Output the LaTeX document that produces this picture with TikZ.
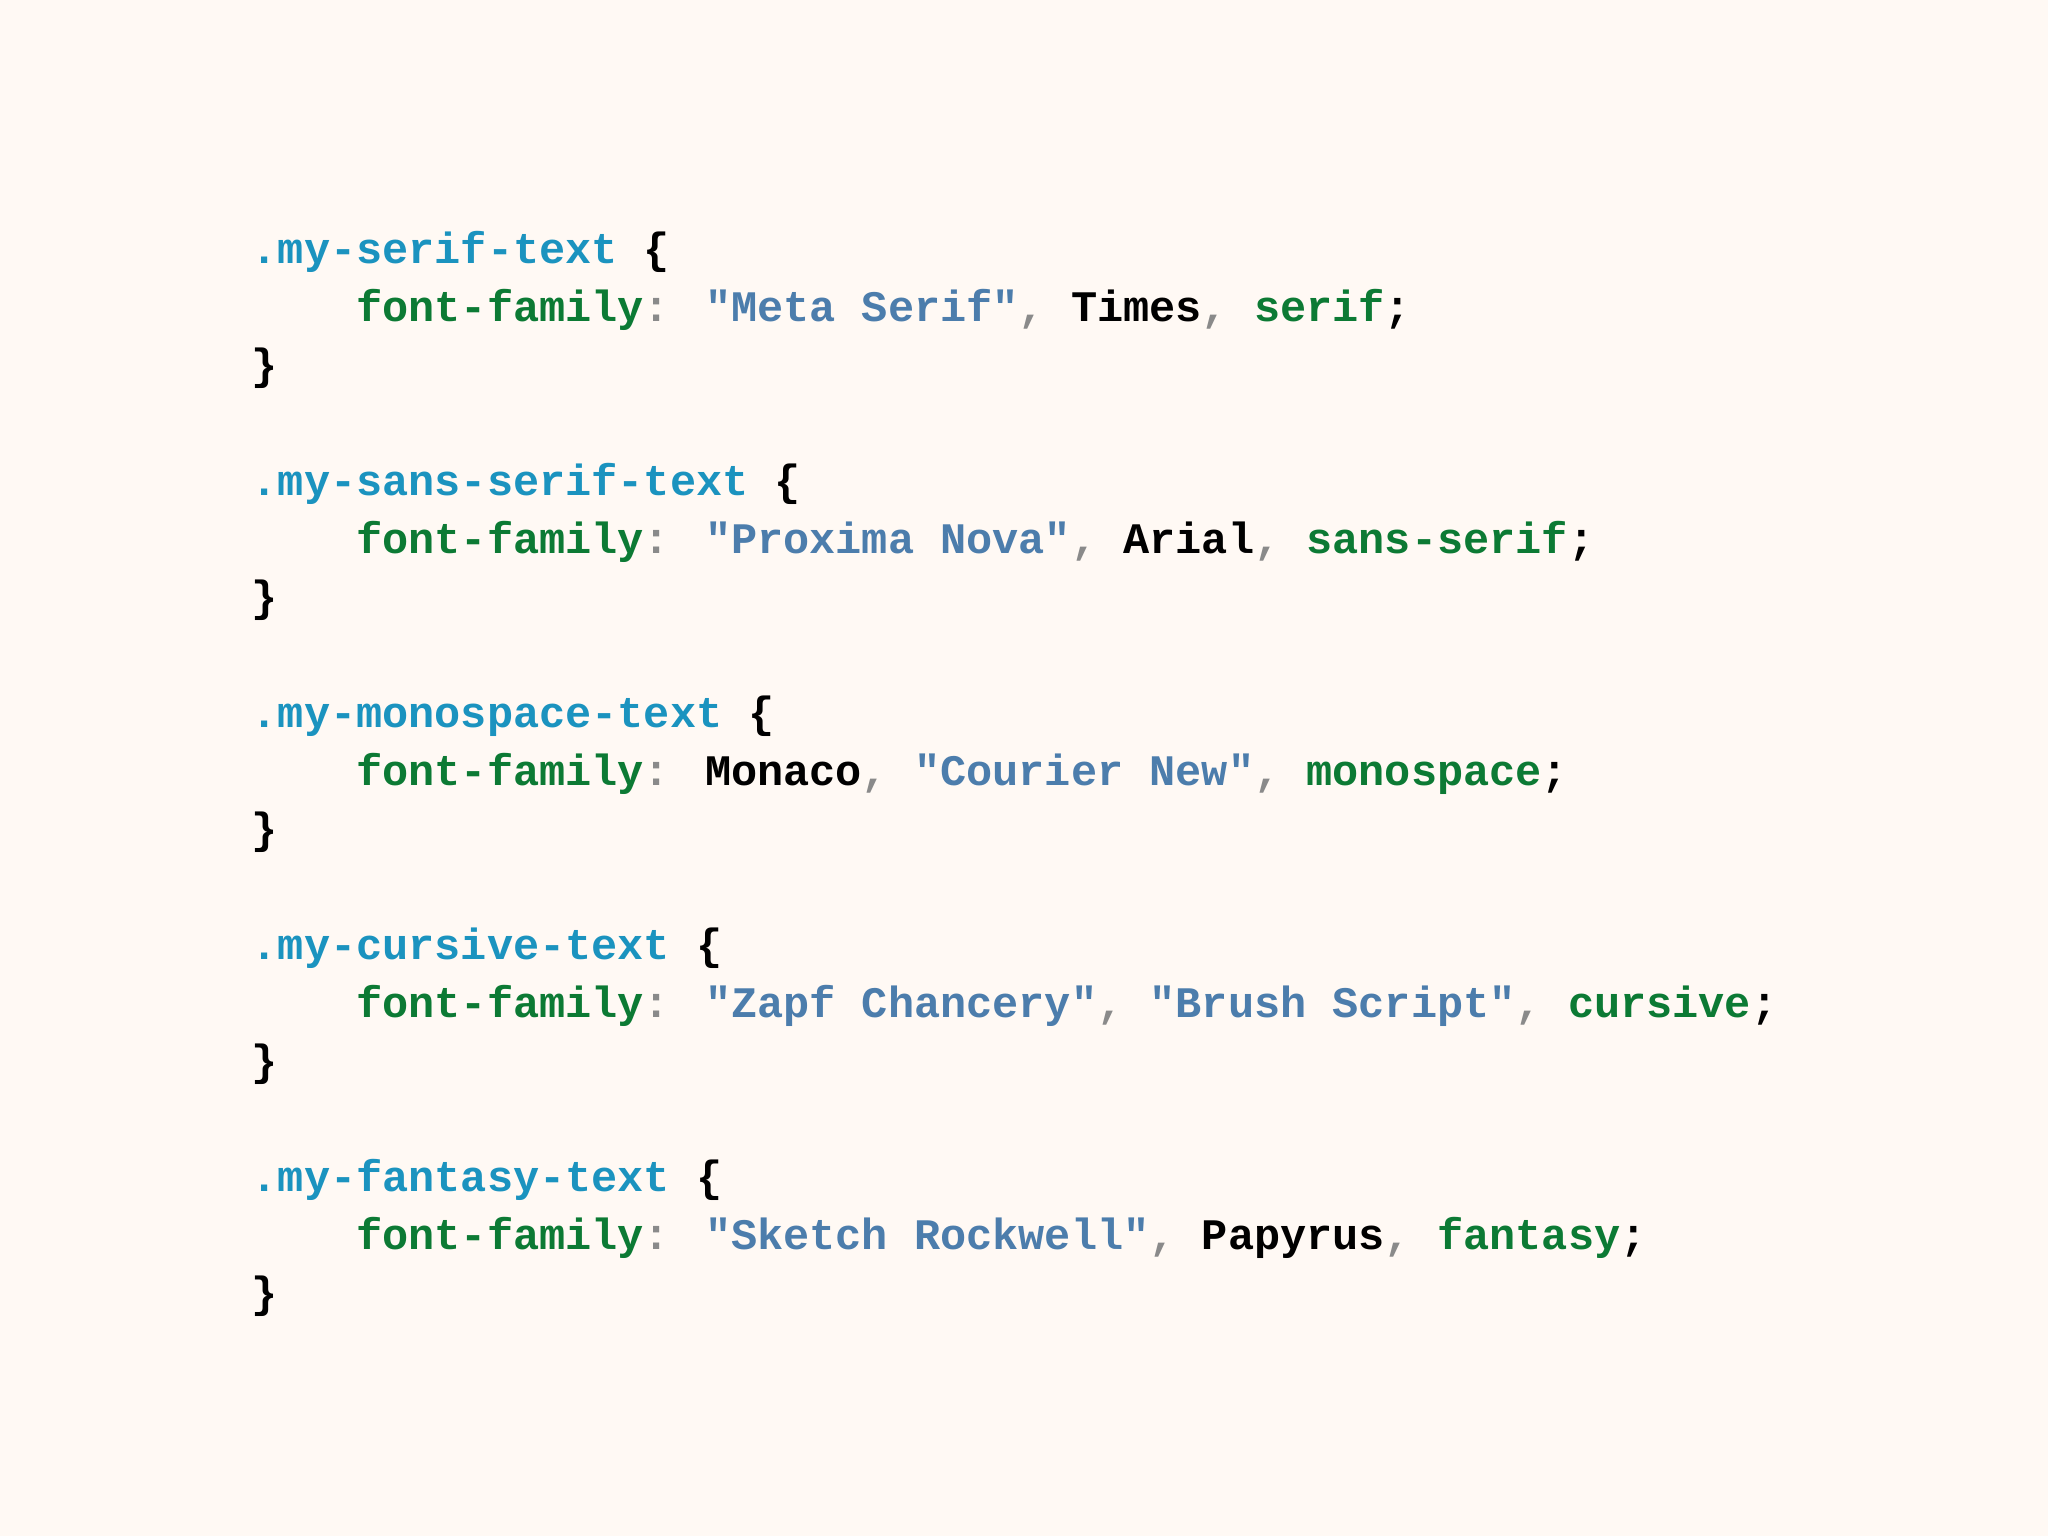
\documentclass[tikz,border=0pt]{standalone}
\usepackage{fontspec}
\newfontfamily\code{Liberation Mono}
\definecolor{bg}{HTML}{FFF9F4}
\definecolor{sel}{HTML}{1B93BF}
\definecolor{prop}{HTML}{0C7A34}
\definecolor{str}{HTML}{4C7DAC}
\definecolor{pun}{HTML}{8A8A8A}
\newcommand{\cSel}[1]{\textcolor{sel}{#1}}
\newcommand{\cProp}[1]{\textcolor{prop}{#1}}
\newcommand{\cStr}[1]{\textcolor{str}{#1}}
\newcommand{\cCm}{\textcolor{pun}{,}}
\newcommand{\cCol}{\textcolor{pun}{:}}
\newcommand{\cInd}{\phantom{xxxx}}
\tikzset{ln/.style={anchor=west,inner sep=0pt,font=\code\bfseries\fontsize{12.4pt}{14pt}\selectfont}}
\begin{document}
\begin{tikzpicture}
\fill[bg] (0,0) rectangle (20.48,15.36);
\useasboundingbox (0,0) rectangle (20.48,15.36);
\def\X{2.51}
\def\Y#1{15.36-2.52-0.58*#1}
\node[ln] (l0) at (\X,{\Y{0}}) {\cSel{.my-serif-text} \{};
\node[ln] (l1) at (\X,{\Y{1}}) {\cInd\cProp{font-family}\cCol{} \cStr{"Meta Serif"}\cCm{} Times\cCm{} \cProp{serif};};
\node[ln] (l2) at (\X,{\Y{2}}) {\}};
\node[ln] (l4) at (\X,{\Y{4}}) {\cSel{.my-sans-serif-text} \{};
\node[ln] (l5) at (\X,{\Y{5}}) {\cInd\cProp{font-family}\cCol{} \cStr{"Proxima Nova"}\cCm{} Arial\cCm{} \cProp{sans-serif};};
\node[ln] (l6) at (\X,{\Y{6}}) {\}};
\node[ln] (l8) at (\X,{\Y{8}}) {\cSel{.my-monospace-text} \{};
\node[ln] (l9) at (\X,{\Y{9}}) {\cInd\cProp{font-family}\cCol{} Monaco\cCm{} \cStr{"Courier New"}\cCm{} \cProp{monospace};};
\node[ln] (l10) at (\X,{\Y{10}}) {\}};
\node[ln] (l12) at (\X,{\Y{12}}) {\cSel{.my-cursive-text} \{};
\node[ln] (l13) at (\X,{\Y{13}}) {\cInd\cProp{font-family}\cCol{} \cStr{"Zapf Chancery"}\cCm{} \cStr{"Brush Script"}\cCm{} \cProp{cursive};};
\node[ln] (l14) at (\X,{\Y{14}}) {\}};
\node[ln] (l16) at (\X,{\Y{16}}) {\cSel{.my-fantasy-text} \{};
\node[ln] (l17) at (\X,{\Y{17}}) {\cInd\cProp{font-family}\cCol{} \cStr{"Sketch Rockwell"}\cCm{} Papyrus\cCm{} \cProp{fantasy};};
\node[ln] (l18) at (\X,{\Y{18}}) {\}};
\end{tikzpicture}
\end{document}
